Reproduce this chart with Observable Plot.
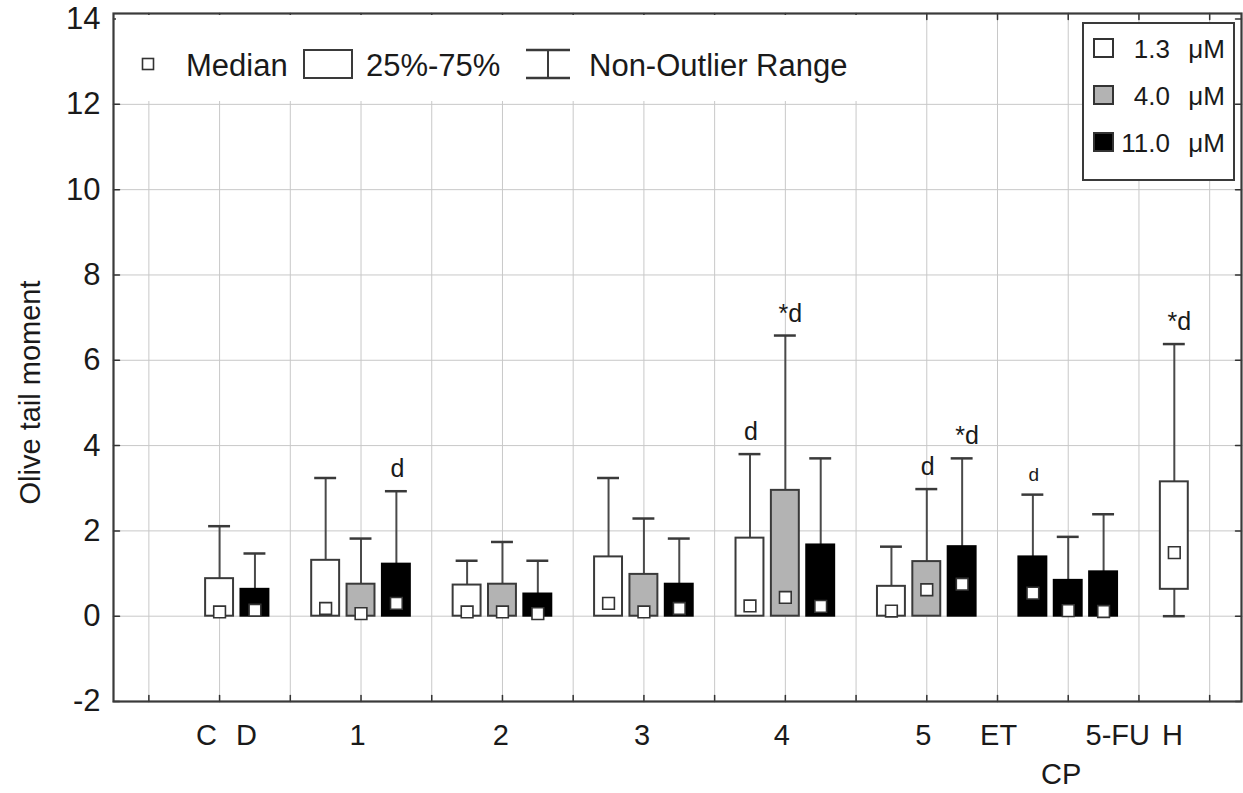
<!DOCTYPE html>
<html>
<head>
<meta charset="utf-8">
<script src="https://cdn.jsdelivr.net/npm/d3@7"></script>
<script src="https://cdn.jsdelivr.net/npm/@observablehq/plot@0.6"></script>
<style>
  body { margin: 0; background: #fff; }
  #chart { width: 1243px; height: 793px; }
</style>
</head>
<body>
<div id="chart"></div>
<script>
// ---- data ----
const groups    = ["C","D","1","1","1","2","2","2","3","3","3","4","4","4","5","5","5","ET","CP","5-FU","H"];
const concs     = ["1.3","11.0","1.3","4.0","11.0","1.3","4.0","11.0","1.3","4.0","11.0","1.3","4.0","11.0","1.3","4.0","11.0","11.0","11.0","11.0","1.3"];
const slots     = [2,3,5,6,7,9,10,11,13,14,15,17,18,19,21,22,23,25,26,27,29];
const q1        = [0,0,0,0,0,0,0,0,0,0,0,0,0,0,0,0,0,0,0,0,0.63];
const q3        = [0.88,0.63,1.31,0.75,1.22,0.73,0.75,0.52,1.39,0.98,0.75,1.83,2.95,1.67,0.70,1.28,1.63,1.39,0.84,1.04,3.15];
const medians   = [0.10,0.14,0.18,0.06,0.30,0.10,0.10,0.06,0.30,0.10,0.18,0.24,0.44,0.23,0.12,0.62,0.75,0.54,0.13,0.11,1.49];
const whiskLow  = [0,0,0,0,0,0,0,0,0,0,0,0,0,0,0,0,0,0,0,0,0];
const whiskHigh = [2.11,1.47,3.24,1.82,2.93,1.30,1.74,1.30,3.24,2.29,1.82,3.80,6.58,3.70,1.63,2.98,3.70,2.85,1.86,2.39,6.38];
const sigLabels = ["","","","","d","","","","","","","d","*d","","","d","*d","d","","","*d"];

const xLabels    = ["C","D","1","2","3","4","5","ET","CP","5-FU","H"];
const xLabelPos  = [1.63,2.76,5.9,9.95,13.95,17.9,21.9,24.03,25.8,27.4,28.95];
const xLabelRow  = [0,0,0,0,0,0,0,0,1,0,0];
const gridSlots  = d3.range(0, 31, 2);
const yTicks     = [-2,0,2,4,6,8,10,12,14];
const yGrid      = [0,2,4,6,8,10,12];
const concLevels = ["1.3","4.0","11.0"];
const concFills  = ["#ffffff","#b3b3b3","#000000"];

const boxes = groups.map((g, i) => ({
  group: g, conc: concs[i], slot: slots[i], q1: q1[i], q3: q3[i],
  median: medians[i], lo: whiskLow[i], hi: whiskHigh[i], label: sigLabels[i]
}));
const labelsData = xLabels.map((t, i) => ({text: t, pos: xLabelPos[i], row: xLabelRow[i]}));

const FONT = "'Liberation Sans', Arial, Helvetica, sans-serif";
const fillOf = c => concFills[concLevels.indexOf(c)];
const boxHalf = 0.395, capHalf = 0.31;
const tickShape = {draw(ctx, l) { ctx.moveTo(0, 0); ctx.lineTo(0, -l); }};
const tickStyle = {stroke: "#333", strokeWidth: 1.5, anchor: "start", shape: tickShape, length: 6};
const sig = boxes.filter(d => d.label);

const chart = Plot.plot({
  width: 1243,
  height: 793,
  marginLeft: 113,
  marginRight: 2,
  marginTop: 13,
  marginBottom: 92,
  x: {domain: [-1, 30.9], axis: null},
  y: {domain: [-2, 14.13], axis: null},
  style: {fontFamily: FONT, background: "#fff", color: "#1a1a1a"},
  marks: [
    Plot.gridX(gridSlots, {stroke: "#c8c8c8", strokeOpacity: 1, strokeWidth: 1}),
    Plot.gridY(yGrid, {stroke: "#c8c8c8", strokeOpacity: 1, strokeWidth: 1}),
    Plot.axisY(yTicks, {anchor: "left", tickSize: 0, tickPadding: 13, fontSize: 31, fill: "#1a1a1a", tickFormat: d => String(d)}),
    // frame ticks
    Plot.vector(gridSlots, {x: d => d, frameAnchor: "top", rotate: 180, ...tickStyle}),
    Plot.vector(gridSlots, {x: d => d, frameAnchor: "bottom", rotate: 0, ...tickStyle}),
    Plot.vector(yTicks, {y: d => d, frameAnchor: "left", rotate: 90, ...tickStyle}),
    Plot.vector(yTicks, {y: d => d, frameAnchor: "right", rotate: -90, ...tickStyle}),
    // whiskers
    Plot.ruleX(boxes, {x: "slot", y1: "q3", y2: "hi", stroke: "#4a4a4a", strokeWidth: 2}),
    Plot.ruleX(boxes.filter(d => d.q1 > d.lo), {x: "slot", y1: "lo", y2: "q1", stroke: "#4a4a4a", strokeWidth: 2}),
    Plot.ruleY(boxes, {y: "hi", x1: d => d.slot - capHalf, x2: d => d.slot + capHalf, stroke: "#3a3a3a", strokeWidth: 2.5}),
    Plot.ruleY(boxes.filter(d => d.q1 > d.lo), {y: "lo", x1: d => d.slot - capHalf, x2: d => d.slot + capHalf, stroke: "#3a3a3a", strokeWidth: 2.5}),
    // boxes
    Plot.rect(boxes, {
      x1: d => d.slot - boxHalf, x2: d => d.slot + boxHalf, y1: "q1", y2: "q3",
      fill: d => fillOf(d.conc), stroke: d => d.conc === "11.0" ? "#000" : "#3a3a3a", strokeWidth: 2
    }),
    // medians
    Plot.dot(boxes, {x: "slot", y: "median", symbol: "square", r: 6.6, fill: "#fff", stroke: "#333", strokeWidth: 1.6}),
    // significance labels
    Plot.text(sig.filter(d => !d.label.startsWith("*")), {
      x: "slot", y: "hi", text: "label", lineAnchor: "bottom", dy: -14, dx: 1,
      fontSize: d => d.group === "ET" ? 19 : 25, fill: "#1a1a1a"
    }),
    Plot.text(sig.filter(d => d.label.startsWith("*")), {
      x: "slot", y: "hi", text: "label", lineAnchor: "bottom", dy: -14, dx: 5,
      fontSize: 25, fill: "#1a1a1a"
    }),
    // x category labels
    Plot.text(labelsData.filter(d => d.row === 0), {
      x: "pos", frameAnchor: "bottom", text: "text", lineAnchor: "bottom", textAnchor: "middle",
      dy: 43, fontSize: 29, fill: "#1a1a1a"
    }),
    Plot.text(labelsData.filter(d => d.row === 1), {
      x: "pos", frameAnchor: "bottom", text: "text", lineAnchor: "bottom", textAnchor: "middle",
      dy: 82, fontSize: 29, fill: "#1a1a1a"
    }),
    // y label
    Plot.text(["Olive tail moment"], {
      frameAnchor: "left", text: d => d, rotate: -90, dx: -83, dy: 35,
      textAnchor: "middle", lineAnchor: "middle", fontSize: 29, fill: "#1a1a1a"
    }),
    Plot.frame({stroke: "#3a3a3a", strokeWidth: 2.2})
  ]
});

document.getElementById("chart").appendChild(chart);

// ---- legends (drawn on top of the plot) ----
const svg = d3.select(chart);
const lg = svg.append("g").attr("font-family", FONT).attr("fill", "#1a1a1a").attr("text-anchor", "start");

// top-left key
lg.append("rect").attr("x", 116).attr("y", 15).attr("width", 766).attr("height", 86).attr("fill", "#fff");
lg.append("rect").attr("x", 142.5).attr("y", 58.5).attr("width", 11).attr("height", 11)
  .attr("fill", "#fff").attr("stroke", "#333").attr("stroke-width", 1.6);
lg.append("text").attr("x", 186).attr("y", 76).attr("font-size", 31).attr("text-anchor", "start").text("Median");
lg.append("rect").attr("x", 304).attr("y", 50).attr("width", 48).attr("height", 28)
  .attr("fill", "#fff").attr("stroke", "#3a3a3a").attr("stroke-width", 2);
lg.append("text").attr("x", 366).attr("y", 76).attr("font-size", 31).attr("text-anchor", "start").text("25%-75%");
const wk = lg.append("g").attr("stroke", "#3a3a3a").attr("stroke-width", 2);
wk.append("line").attr("x1", 548).attr("x2", 548).attr("y1", 50).attr("y2", 78);
wk.append("line").attr("x1", 526).attr("x2", 570).attr("y1", 50).attr("y2", 50).attr("stroke-width", 2.5);
wk.append("line").attr("x1", 526).attr("x2", 570).attr("y1", 78).attr("y2", 78).attr("stroke-width", 2.5);
lg.append("text").attr("x", 589).attr("y", 76).attr("font-size", 31).attr("text-anchor", "start").text("Non-Outlier Range");

// top-right key
lg.append("rect").attr("x", 1083).attr("y", 23).attr("width", 151).attr("height", 157)
  .attr("fill", "#fff").attr("stroke", "#3a3a3a").attr("stroke-width", 2);
concLevels.forEach((c, i) => {
  const yc = 48 + i * 47;
  lg.append("rect").attr("x", 1094).attr("y", yc - 9).attr("width", 19).attr("height", 18)
    .attr("fill", concFills[i]).attr("stroke", "#333").attr("stroke-width", 2);
  lg.append("text").attr("x", 1170).attr("y", yc + 10).attr("font-size", 26)
    .attr("text-anchor", "end").text(c);
  lg.append("text").attr("x", 1225).attr("y", yc + 10).attr("font-size", 26)
    .attr("text-anchor", "end").text("μM");
});
</script>
</body>
</html>
